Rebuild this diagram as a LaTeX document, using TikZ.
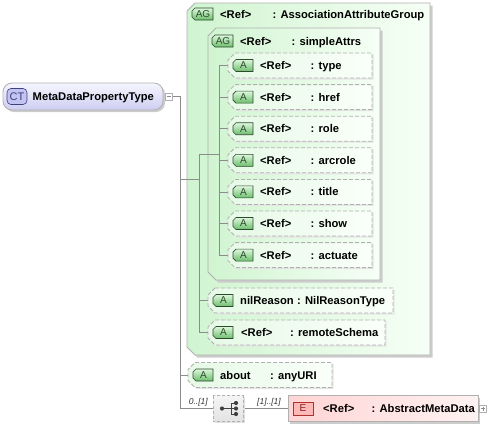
\documentclass[tikz,border=0pt]{standalone}
\usepackage{fontspec}
\setmainfont{Liberation Sans}
\usetikzlibrary{calc,shadows}
\definecolor{grpL}{HTML}{D0F4D0}
\definecolor{grpR}{HTML}{F6FFF6}
\definecolor{attL}{HTML}{E6F9E6}
\definecolor{attR}{HTML}{FAFFFA}
\definecolor{bord}{HTML}{B0B0B0}
\definecolor{shad}{HTML}{CCCCCC}
\definecolor{connc}{HTML}{8C8C8C}
\definecolor{tagT}{HTML}{DDF7DD}
\definecolor{tagB}{HTML}{6CBE6C}
\definecolor{tagD}{HTML}{2E4A2E}
\definecolor{ctT}{HTML}{F6F6FF}
\definecolor{ctB}{HTML}{CDCDF2}
\definecolor{ctTag}{HTML}{C4C4F2}
\definecolor{ctTagD}{HTML}{40407C}
\definecolor{elL}{HTML}{FFD4D4}
\definecolor{elR}{HTML}{FFF2F2}
\definecolor{eTag}{HTML}{FFB8B8}
\definecolor{eTagD}{HTML}{B03030}
\newcommand\chamf[3]{\path[#3] ($(#1.north west)+(#2,0)$) -- (#1.north east) -- (#1.south east) -- ($(#1.south west)+(#2,0)$) -- ($(#1.south west)+(0,-#2)$) -- ($(#1.north west)+(0,#2)$) -- cycle;}
\newcommand\tagbox[5]{%
  \node[nbox, anchor=west, minimum width=#5, minimum height=12] (#1) at (#2,#3) {};
  \chamf{#1}{3}{tagg}
  \node[tagtxt] (#1l) at ([xshift=0.5pt]#1.center) {#4};}
\newcommand\attrbox[8]{%
  \node[nbox, anchor=west, minimum width=#4, minimum height=25] (#1) at (#2,#3) {};
  \chamf{#1}{7}{attrf}
  \tagbox{#1g}{#2+5}{#3}{A}{20}
  \node[txt] (#1n) at (#5,#3) {#6};
  \node[txt] (#1t) at (#7,#3) {#8};}
\begin{document}
\begin{tikzpicture}[x=1pt,y=-1pt,
  nbox/.style={draw=none, inner sep=0pt, outer sep=0pt, anchor=north west},
  txt/.style={anchor=west, inner sep=0pt, text height=8.5pt, text depth=0.5pt, font=\fontsize{11.2}{13}\selectfont\bfseries},
  tagtxt/.style={inner sep=0pt, font=\fontsize{10}{11}\selectfont, text=tagD},
  grp/.style={draw=bord, line width=0.8pt, left color=grpL, right color=grpR, general shadow={fill=shad, shadow xshift=2.5pt, shadow yshift=-2.5pt}},
  attrf/.style={draw=bord, line width=0.8pt, dash pattern=on 4pt off 2pt, left color=attL, right color=attR, general shadow={fill=shad!50, shadow xshift=1.5pt, shadow yshift=-1.5pt}},
  tagg/.style={draw=tagD, line width=0.6pt, top color=tagT, bottom color=tagB},
  conn/.style={draw=connc, line width=0.8pt},
  expd/.style={nbox, anchor=west, minimum width=7, minimum height=7, draw=bord, fill=white, line width=0.5pt},
  card/.style={inner sep=0pt, font=\fontsize{8.5}{10}\selectfont\itshape, text=black!80}
]
\useasboundingbox (0,0) rectangle (490,424);

% groups
\node[nbox, minimum width=243, minimum height=352] (outer) at (187,3) {};
\chamf{outer}{8}{grp}
\tagbox{outerg}{192}{14}{AG}{21}
\node[txt] (outern) at (220,14) {<Ref>};
\node[txt] (outert) at (272.5,14) {: AssociationAttributeGroup};

\node[nbox, minimum width=172, minimum height=252] (inner) at (208,28) {};
\chamf{inner}{8}{grp}
\tagbox{innerg}{212}{41}{AG}{21}
\node[txt] (innern) at (240,41) {<Ref>};
\node[txt] (innert) at (291.5,41) {: simpleAttrs};

% spines
\coordinate (sp0) at (180.5,97);
\coordinate (sp1) at (199,0);
\coordinate (sp2) at (219,0);

% nodes needed for connectors
\node[nbox, minimum width=144, minimum height=25, anchor=west] (a1) at (228,65.5) {};
\node[nbox, minimum width=144, minimum height=25, anchor=west] (a7) at (228,255.1) {};
\node[nbox, minimum width=185, minimum height=25, anchor=west] (nilp) at (208,300.5) {};
\node[nbox, minimum width=177, minimum height=25, anchor=west] (remp) at (208,332.5) {};
\node[nbox, minimum width=144, minimum height=26, anchor=west] (aboutp) at (188,375) {};
\node[nbox, minimum width=30, minimum height=26] (seq) at (213,395.5) {};
\node[nbox, minimum width=190, minimum height=26] (elem) at (288,395.5) {};
\node[nbox, minimum width=160, minimum height=27, rounded corners=9, draw=bord, line width=0.8pt, top color=ctT, bottom color=ctB, general shadow={fill=shad, shadow xshift=2pt, shadow yshift=-2pt}] (ct) at (3,83) {};
\node[expd] (ctexp) at (165.5,96.5) {};

% connectors
\draw[conn] (ctexp.east) -- (sp0 |- ctexp.east) -- (sp0 |- seq.west) -- (seq.west);
\draw[conn] (sp0 |- outer.west) -- (outer.west -| sp1);
\draw[conn] (sp0 |- aboutp.west) -- (aboutp.west);
\draw[conn] (sp1 |- inner.west) -- (sp1 |- remp.west) -- (remp.west);
\draw[conn] (sp1 |- inner.west) -- (sp2 |- inner.west);
\draw[conn] (sp1 |- nilp.west) -- (nilp.west);
\draw[conn] (sp2 |- a1.west) -- (sp2 |- a7.west) -- (a7.west);
\foreach \yy in {65.5,97.1,128.7,160.3,191.9,223.5,255.1}{
  \draw[conn] (sp2 |- 0,\yy) -- (228,\yy);}
\draw[conn] (seq.east) -- (elem.west);

% attributes
\attrbox{at1}{228}{65.5}{144}{260}{<Ref>}{310.5}{: type}
\attrbox{at2}{228}{97.1}{144}{260}{<Ref>}{310.5}{: href}
\attrbox{at3}{228}{128.7}{144}{260}{<Ref>}{310.5}{: role}
\attrbox{at4}{228}{160.3}{144}{260}{<Ref>}{310.5}{: arcrole}
\attrbox{at5}{228}{191.9}{144}{260}{<Ref>}{310.5}{: title}
\attrbox{at6}{228}{223.5}{144}{260}{<Ref>}{310.5}{: show}
\attrbox{at7}{228}{255.1}{144}{260}{<Ref>}{310.5}{: actuate}
\attrbox{nil}{208}{300.5}{185}{240}{nilReason}{297}{: NilReasonType}
\attrbox{rem}{208}{332.5}{177}{241}{<Ref>}{290}{: remoteSchema}
\attrbox{about}{188}{375}{144}{220}{about}{270}{: anyURI}

% CT
\node[nbox, anchor=west, minimum width=20, minimum height=16, rounded corners=4, draw=ctTagD, fill=ctTag, line width=0.6pt] (ctg) at (7,96.5) {};
\node[inner sep=0pt, font=\fontsize{11}{12}\selectfont, text=ctTagD] (ctgl) at (ctg.center) {CT};
\node[txt] (ctn) at (32.5,96.5) {MetaDataPropertyType};
\draw[draw=connc, line width=0.6pt] ([xshift=1.5pt]ctexp.west) -- ([xshift=-1.5pt]ctexp.east);

% sequence compositor
\path[draw=bord, line width=0.8pt, dash pattern=on 3pt off 2pt, top color=gray!8, bottom color=gray!22, general shadow={fill=shad!60, shadow xshift=1.5pt, shadow yshift=-1.5pt}] (seq.north west) rectangle (seq.south east);
\begin{scope}[shift={(seq.center)}]
  \draw[black!75, line width=0.9pt] (-6,0) -- (3,0) (3,-5.5) -- (3,5.5) (3,-5.5) -- (8,-5.5) (3,5.5) -- (8,5.5) (3,0) -- (8,0);
  \fill[black!75] (-6,0) circle (2.1) (8,-5.5) circle (2.1) (8,0) circle (2.1) (8,5.5) circle (2.1);
\end{scope}
\node[card, anchor=base east] (c1) at (208,404) {0..[1]};
\node[card, anchor=base west] (c2) at (257,404) {[1]..[1]};

% element
\path[draw=bord, line width=0.8pt, left color=elL, right color=elR, general shadow={fill=shad, shadow xshift=2pt, shadow yshift=-2pt}] (elem.north west) rectangle (elem.south east);
\node[nbox, anchor=west, minimum width=20, minimum height=13, draw=eTagD, fill=eTag, line width=0.6pt] (elg) at (293,408.5) {};
\node[inner sep=0pt, font=\fontsize{10}{11}\selectfont, text=eTagD!70!black] (elgl) at (elg.center) {E};
\node[txt] (eln) at (323,408.5) {<Ref>};
\node[txt] (elt) at (371.5,408.5) {: AbstractMetaData};
\node[expd] (elexp) at (479.5,408.5) {};
\draw[draw=connc, line width=0.6pt] ([xshift=1.5pt]elexp.west) -- ([xshift=-1.5pt]elexp.east) (elexp.north) ++(0,-1.5pt) -- ([yshift=1.5pt]elexp.south);
\end{tikzpicture}
\end{document}
